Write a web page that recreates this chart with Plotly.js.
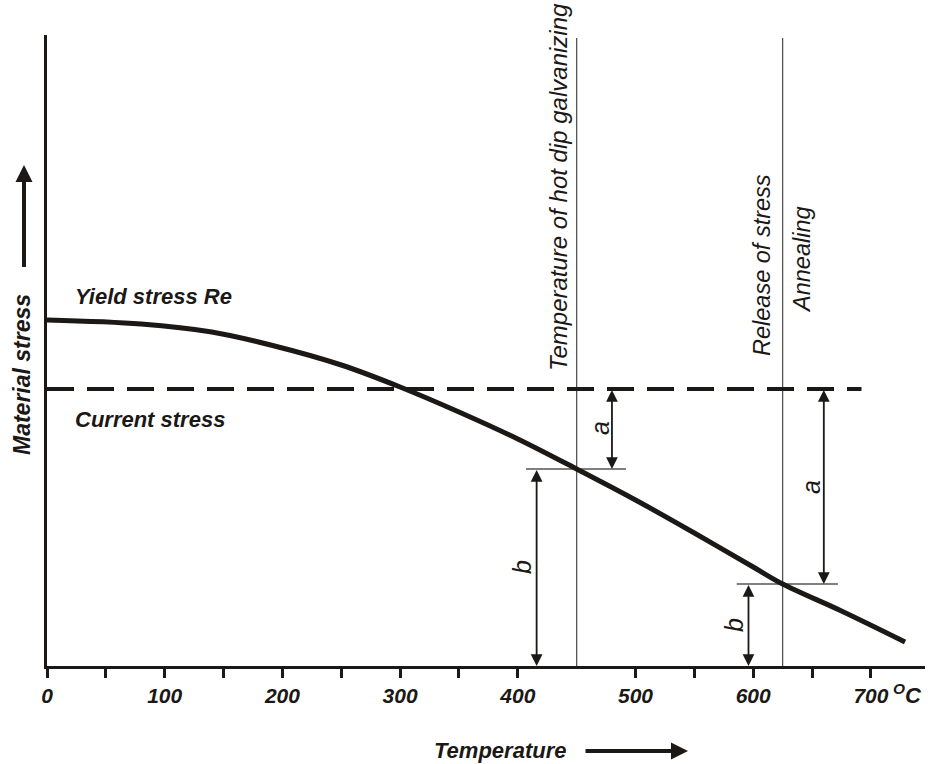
<!DOCTYPE html>
<html>
<head>
<meta charset="utf-8">
<script src="https://cdn.plot.ly/plotly-3.0.1.min.js"></script>
<style>html,body{margin:0;padding:0;background:#fff}#chart{width:934px;height:764px}</style>
</head>
<body>
<div id="chart"></div>
<script>
// ---- data ----
const temperature = [0, 80, 140, 190, 250, 300, 350, 400, 450, 500, 550, 600, 625, 675, 729];
const yieldStress = [346, 342, 334, 321, 301, 279, 254, 227, 197, 166, 133, 99, 82, 55, 24];
const currentStressX = [0, 692];
const currentStressY = [277, 277];
const galvanizingTemp = 450;
const annealingTemp = 625;
const yieldAtGalv = 197;
const yieldAtAnneal = 82;
const galvMarkX = [407, 492];
const annealMarkX = [586, 672];
const arrowAGalvX = 480, arrowBGalvX = 416;
const arrowAAnnealX = 660, arrowBAnnealX = 596;
const tickValues = [0, 50, 100, 150, 200, 250, 300, 350, 400, 500, 550, 600, 650, 700];
const tickLabels = ['0', '', '100', '', '200', '', '300', '', '400', '500', '', '600', '', '700'];

const INK = '#1b1816';
const FONT = "'Liberation Sans', Arial, sans-serif";
const boldIt = (size) => ({family: FONT, size: size, color: INK, weight: 'bold', style: 'italic'});
const regIt = (size) => ({family: FONT, size: size, color: INK, style: 'italic'});

const L = 47, R = 9, T = 35, B = 98, W = 934, H = 764;
const PW = W - L - R, PH = H - T - B;
const px = (x) => (x - L) / PW;
const py = (y) => (H - B - y) / PH;

const traces = [
  {x: [galvanizingTemp, galvanizingTemp], y: [0, 628], mode: 'lines', line: {color: '#555', width: 1.3}, hoverinfo: 'skip'},
  {x: [annealingTemp, annealingTemp], y: [0, 628], mode: 'lines', line: {color: '#555', width: 1.3}, hoverinfo: 'skip'},
  {x: galvMarkX, y: [yieldAtGalv, yieldAtGalv], mode: 'lines', line: {color: '#555', width: 1.3}, hoverinfo: 'skip'},
  {x: annealMarkX, y: [yieldAtAnneal, yieldAtAnneal], mode: 'lines', line: {color: '#555', width: 1.3}, hoverinfo: 'skip'},
  {x: currentStressX, y: currentStressY, mode: 'lines', line: {color: INK, width: 4, dash: '27px,13px'}, hoverinfo: 'skip'},
  {x: temperature, y: yieldStress, mode: 'lines', line: {color: INK, width: 5, shape: 'spline', smoothing: 1}, hoverinfo: 'skip'}
];

function dbl(x, y0, y1) {
  return {x: x, y: y1, ax: x, ay: y0, xref: 'x', yref: 'y', axref: 'x', ayref: 'y', text: ' ',
    showarrow: true, arrowside: 'end+start', arrowhead: 2, startarrowhead: 2,
    arrowsize: 1.3, startarrowsize: 1.3, arrowwidth: 1.8, arrowcolor: INK, standoff: 0, startstandoff: 0,
    font: {size: 1}, borderpad: 0};
}

const annotations = [
  dbl(arrowAGalvX, currentStressY[0], yieldAtGalv),
  dbl(arrowBGalvX, yieldAtGalv, 0),
  dbl(arrowAAnnealX, currentStressY[0], yieldAtAnneal),
  dbl(arrowBAnnealX, yieldAtAnneal, 0),
  {xref: 'paper', yref: 'paper', x: px(24), y: py(165), ax: 0, ay: 103, text: ' ', font: {size: 1}, borderpad: 0, showarrow: true,
    arrowhead: 2, arrowsize: 0.85, arrowwidth: 4, arrowcolor: INK, standoff: 0},
  {xref: 'paper', yref: 'paper', x: px(688), y: py(751), ax: -103, ay: 0, text: ' ', font: {size: 1}, borderpad: 0, showarrow: true,
    arrowhead: 2, arrowsize: 0.85, arrowwidth: 4, arrowcolor: INK, standoff: 0},
  {xref: 'paper', yref: 'paper', x: px(73), y: py(296), xanchor: 'left', yanchor: 'middle', text: 'Yield stress Re', showarrow: false, font: boldIt(22)},
  {xref: 'paper', yref: 'paper', x: px(73), y: py(419), xanchor: 'left', yanchor: 'middle', text: 'Current stress', showarrow: false, font: boldIt(22)},
  {xref: 'paper', yref: 'paper', x: px(22), y: py(375), xanchor: 'center', yanchor: 'middle', textangle: -90, text: 'Material stress', showarrow: false, font: boldIt(23)},
  {xref: 'paper', yref: 'paper', x: px(500), y: py(750), xanchor: 'center', yanchor: 'middle', text: 'Temperature', showarrow: false, font: boldIt(22)},
  {xref: 'paper', yref: 'paper', x: px(891), y: py(694), xanchor: 'left', yanchor: 'middle', text: '<sup>O</sup>C', showarrow: false, font: boldIt(22)},
  {xref: 'paper', yref: 'paper', x: px(558), y: py(187), xanchor: 'center', yanchor: 'middle', textangle: -90, text: 'Temperature of hot dip galvanizing', showarrow: false, font: regIt(24)},
  {xref: 'paper', yref: 'paper', x: px(762), y: py(265), xanchor: 'center', yanchor: 'middle', textangle: -90, text: 'Release of stress', showarrow: false, font: regIt(23.5)},
  {xref: 'paper', yref: 'paper', x: px(802), y: py(260), xanchor: 'center', yanchor: 'middle', textangle: -90, text: 'Annealing', showarrow: false, font: regIt(23.5)},
  {xref: 'paper', yref: 'paper', x: px(600), y: py(428), xanchor: 'center', yanchor: 'middle', textangle: -90, text: 'a', showarrow: false, font: regIt(25)},
  {xref: 'paper', yref: 'paper', x: px(522), y: py(567), xanchor: 'center', yanchor: 'middle', textangle: -90, text: 'b', showarrow: false, font: regIt(25)},
  {xref: 'paper', yref: 'paper', x: px(811), y: py(487), xanchor: 'center', yanchor: 'middle', textangle: -90, text: 'a', showarrow: false, font: regIt(25)},
  {xref: 'paper', yref: 'paper', x: px(734), y: py(625), xanchor: 'center', yanchor: 'middle', textangle: -90, text: 'b', showarrow: false, font: regIt(25)}
];

const layout = {
  width: W, height: H,
  margin: {l: L, r: R, t: T, b: B, pad: 0},
  paper_bgcolor: '#fff', plot_bgcolor: '#fff',
  showlegend: false,
  xaxis: {range: [0, PW / 1.177], showgrid: false, zeroline: false, showline: true, linecolor: INK, linewidth: 3,
    ticks: 'outside', ticklen: 9, tickwidth: 3, tickcolor: INK, tickmode: 'array', tickvals: tickValues, ticktext: tickLabels,
    tickfont: boldIt(21), fixedrange: true},
  yaxis: {range: [0, PH], showgrid: false, zeroline: false, showline: true, linecolor: INK, linewidth: 3,
    ticks: '', showticklabels: false, fixedrange: true},
  annotations: annotations
};

Plotly.newPlot('chart', traces, layout, {displayModeBar: false, staticPlot: true});
</script>
</body>
</html>
